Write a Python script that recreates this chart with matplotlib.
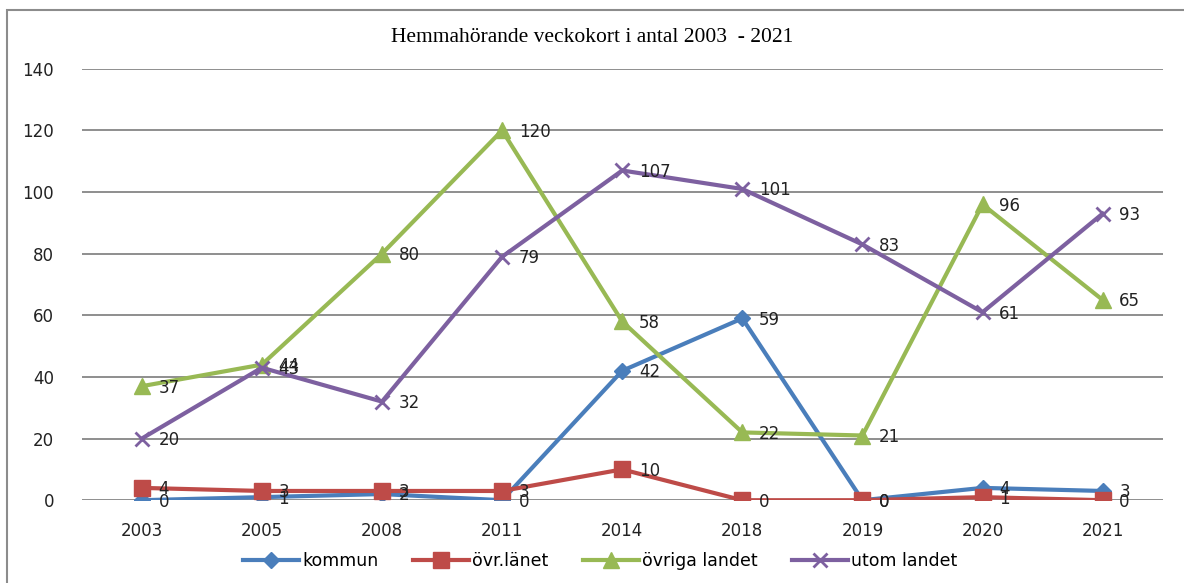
import matplotlib.pyplot as plt
from matplotlib.patches import Rectangle

years = ["2003", "2005", "2008", "2011", "2014", "2018", "2019", "2020", "2021"]
kommun = [0, 1, 2, 0, 42, 59, 0, 4, 3]
ovr_lanet = [4, 3, 3, 3, 10, 0, 0, 1, 0]
ovriga_landet = [37, 44, 80, 120, 58, 22, 21, 96, 65]
utom_landet = [20, 43, 32, 79, 107, 101, 83, 61, 93]

series = [
    ("kommun", kommun, "#4A7EBB", "D", 8),
    ("övr.länet", ovr_lanet, "#BE4B48", "s", 11),
    ("övriga landet", ovriga_landet, "#98B954", "^", 11),
    ("utom landet", utom_landet, "#7D60A0", "x", 10),
]

fig = plt.figure(figsize=(11.84, 5.83), dpi=100)
ax = fig.add_axes([0.069, 0.142, 0.913, 0.740])

# outer chart frame
fig.patches.append(Rectangle((7 / 1184, -0.1), 1.2, 1.1 - 10 / 583,
                             transform=fig.transFigure, fill=False,
                             edgecolor="#8c8c8c", linewidth=1.5))

x = list(range(len(years)))
for name, vals, color, marker, ms in series:
    mew = 2 if marker == "x" else 1
    ax.plot(x, vals, color=color, linewidth=3, marker=marker, markersize=ms,
            markeredgewidth=mew, label=name)

for name, vals, color, marker, ms in series:
    for xi, v in zip(x, vals):
        ax.annotate(str(v), (xi, v), xytext=(12, -1), textcoords="offset points",
                    ha="left", va="center", fontsize=12, color="#222222")

ax.set_xlim(-0.5, len(years) - 0.5)
ax.set_ylim(0, 140)
ax.set_yticks(range(0, 141, 20))
ax.set_xticks(x)
ax.set_xticklabels(years)
ax.tick_params(length=0, labelsize=12, colors="#222222")
ax.tick_params(axis="y", pad=20)
ax.tick_params(axis="x", pad=16)
ax.grid(axis="y", color="#868686", linewidth=1.3)
ax.set_axisbelow(True)
for s in ax.spines.values():
    s.set_visible(False)

fig.text(0.5, 1 - 37 / 583, "Hemmahörande veckokort i antal 2003  - 2021",
         ha="center", va="center", fontsize=15.5, family="Liberation Serif")

fig.legend(loc="center", bbox_to_anchor=(0.507, 1 - 561 / 583), ncol=4,
           frameon=False, fontsize=12.5, handlelength=3.2, columnspacing=2.0,
           handletextpad=0.2)

fig.savefig("out.png", dpi=100)
